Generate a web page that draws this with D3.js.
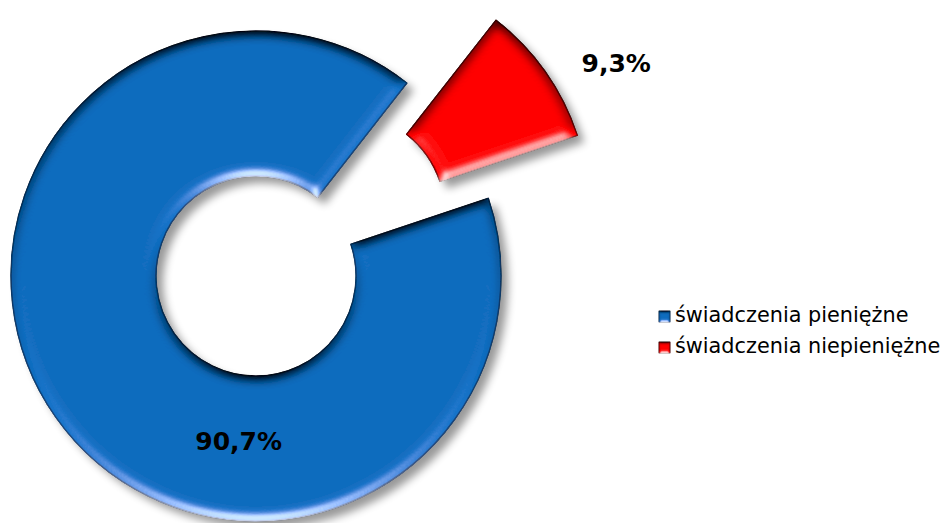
<!DOCTYPE html>
<html>
<head>
<meta charset="utf-8">
<script src="https://cdn.jsdelivr.net/npm/d3@7"></script>
<style>
  html, body { margin: 0; padding: 0; background: #fff; }
  svg { display: block; }
</style>
</head>
<body>
<div id="chart"></div>
<script>
// chart data
var categories = ['świadczenia pieniężne', 'świadczenia niepieniężne'];
var shares = [90.7, 9.3];
var shareLabels = ['90,7%', '9,3%'];
var sliceColors = ['#0a6cbe', '#ff0000'];
var edgeColors = ['#0a3f74', '#7a0000'];

var width = 947, height = 523;
var cx = 256, cy = 276;
var outerR = 245, innerR = 100;
var explode = [0, 109];
var startDeg = 71.5;
// label placement: angle (deg, clockwise from top) and radius from the slice centre
var labelPos = [{ a: 186, r: 166 }, { a: 61, r: 310 }];

var svg = d3.select('#chart')
    .append('svg')
    .attr('width', width)
    .attr('height', height);

var defs = svg.append('defs');

var shadow = defs.append('filter')
    .attr('id', 'shadow')
    .attr('x', '-20%').attr('y', '-20%')
    .attr('width', '140%').attr('height', '140%');
shadow.append('feGaussianBlur').attr('stdDeviation', 4);

// bevel: diffuse light scaled so a flat face keeps its colour, edges get lit / shaded
function makeBevel(id, blur, scale) {
    var f = defs.append('filter')
        .attr('id', id)
        .attr('x', '-10%').attr('y', '-10%')
        .attr('width', '120%').attr('height', '120%');
    f.append('feGaussianBlur')
        .attr('in', 'SourceAlpha')
        .attr('stdDeviation', blur)
        .attr('result', 'blur');
    var diff = f.append('feDiffuseLighting')
        .attr('in', 'blur')
        .attr('surfaceScale', scale)
        .attr('diffuseConstant', 0.7071)
        .attr('lighting-color', '#ffffff')
        .attr('result', 'diff');
    diff.append('feDistantLight')
        .attr('azimuth', 90)
        .attr('elevation', 45);
    var spec = f.append('feSpecularLighting')
        .attr('in', 'blur')
        .attr('surfaceScale', scale)
        .attr('specularConstant', 1)
        .attr('specularExponent', 25)
        .attr('lighting-color', '#ffffff')
        .attr('result', 'spec');
    spec.append('feDistantLight')
        .attr('azimuth', 90)
        .attr('elevation', 12);
    f.append('feComposite')
        .attr('in', 'SourceGraphic')
        .attr('in2', 'diff')
        .attr('operator', 'arithmetic')
        .attr('k1', 2).attr('k2', 0).attr('k3', 0).attr('k4', 0)
        .attr('result', 'lit');
    f.append('feComposite')
        .attr('in', 'spec')
        .attr('in2', 'SourceAlpha')
        .attr('operator', 'in')
        .attr('result', 'specIn');
    f.append('feComposite')
        .attr('in', 'lit')
        .attr('in2', 'specIn')
        .attr('operator', 'arithmetic')
        .attr('k1', 0).attr('k2', 1).attr('k3', 0.6).attr('k4', 0)
        .attr('result', 'shaded');
    f.append('feComposite')
        .attr('in', 'shaded')
        .attr('in2', 'SourceAlpha')
        .attr('operator', 'in');
}
makeBevel('bevel', 6, 7);
makeBevel('bevelSmall', 1.5, 2);

var a0 = startDeg * Math.PI / 180;
var pie = d3.pie()
    .sort(null)
    .startAngle(a0)
    .endAngle(a0 + 2 * Math.PI)
    .value(function (d) { return d; });

var arc = d3.arc()
    .innerRadius(innerR)
    .outerRadius(outerR);

var arcs = pie(shares);

function offset(d, i) {
    var mid = (d.startAngle + d.endAngle) / 2;
    return [cx + explode[i] * Math.sin(mid), cy - explode[i] * Math.cos(mid)];
}

var slices = svg.selectAll('g.slice')
    .data(arcs)
    .enter()
    .append('g')
    .attr('class', 'slice')
    .attr('transform', function (d, i) {
        var o = offset(d, i);
        return 'translate(' + o[0] + ',' + o[1] + ')';
    });

// drop shadow
slices.append('path')
    .attr('d', arc)
    .attr('transform', 'translate(7,7)')
    .style('fill', '#000')
    .style('opacity', 0.4)
    .attr('filter', 'url(#shadow)');

slices.append('path')
    .attr('d', arc)
    .style('fill', function (d, i) { return sliceColors[i]; })
    .style('stroke', function (d, i) { return edgeColors[i]; })
    .style('stroke-width', 1.5)
    .style('stroke-linejoin', 'round')
    .attr('filter', 'url(#bevel)');

svg.selectAll('text.pct')
    .data(arcs)
    .enter()
    .append('text')
    .attr('class', 'pct')
    .attr('x', function (d, i) {
        var o = offset(d, i);
        return o[0] + labelPos[i].r * Math.sin(labelPos[i].a * Math.PI / 180);
    })
    .attr('y', function (d, i) {
        var o = offset(d, i);
        return o[1] - labelPos[i].r * Math.cos(labelPos[i].a * Math.PI / 180);
    })
    .attr('dy', '0.36em')
    .attr('text-anchor', 'middle')
    .style('font-family', '"DejaVu Sans", Verdana, sans-serif')
    .style('font-weight', 'bold')
    .style('font-size', '25px')
    .style('fill', '#000')
    .text(function (d, i) { return shareLabels[i]; });

// legend
var legend = svg.append('g')
    .attr('transform', 'translate(659,311)');

var items = legend.selectAll('g.item')
    .data(categories)
    .enter()
    .append('g')
    .attr('class', 'item')
    .attr('transform', function (d, i) { return 'translate(0,' + (i * 31) + ')'; });

items.append('rect')
    .attr('width', 11)
    .attr('height', 11)
    .style('fill', function (d, i) { return sliceColors[i]; })
    .style('stroke', function (d, i) { return edgeColors[i]; })
    .style('stroke-width', 1)
    .attr('filter', 'url(#bevelSmall)');

items.append('text')
    .attr('x', 16)
    .attr('y', 11)
    .style('font-family', '"DejaVu Sans", Verdana, sans-serif')
    .style('font-size', '20.8px')
    .style('fill', '#000')
    .text(function (d) { return d; });
</script>
</body>
</html>
